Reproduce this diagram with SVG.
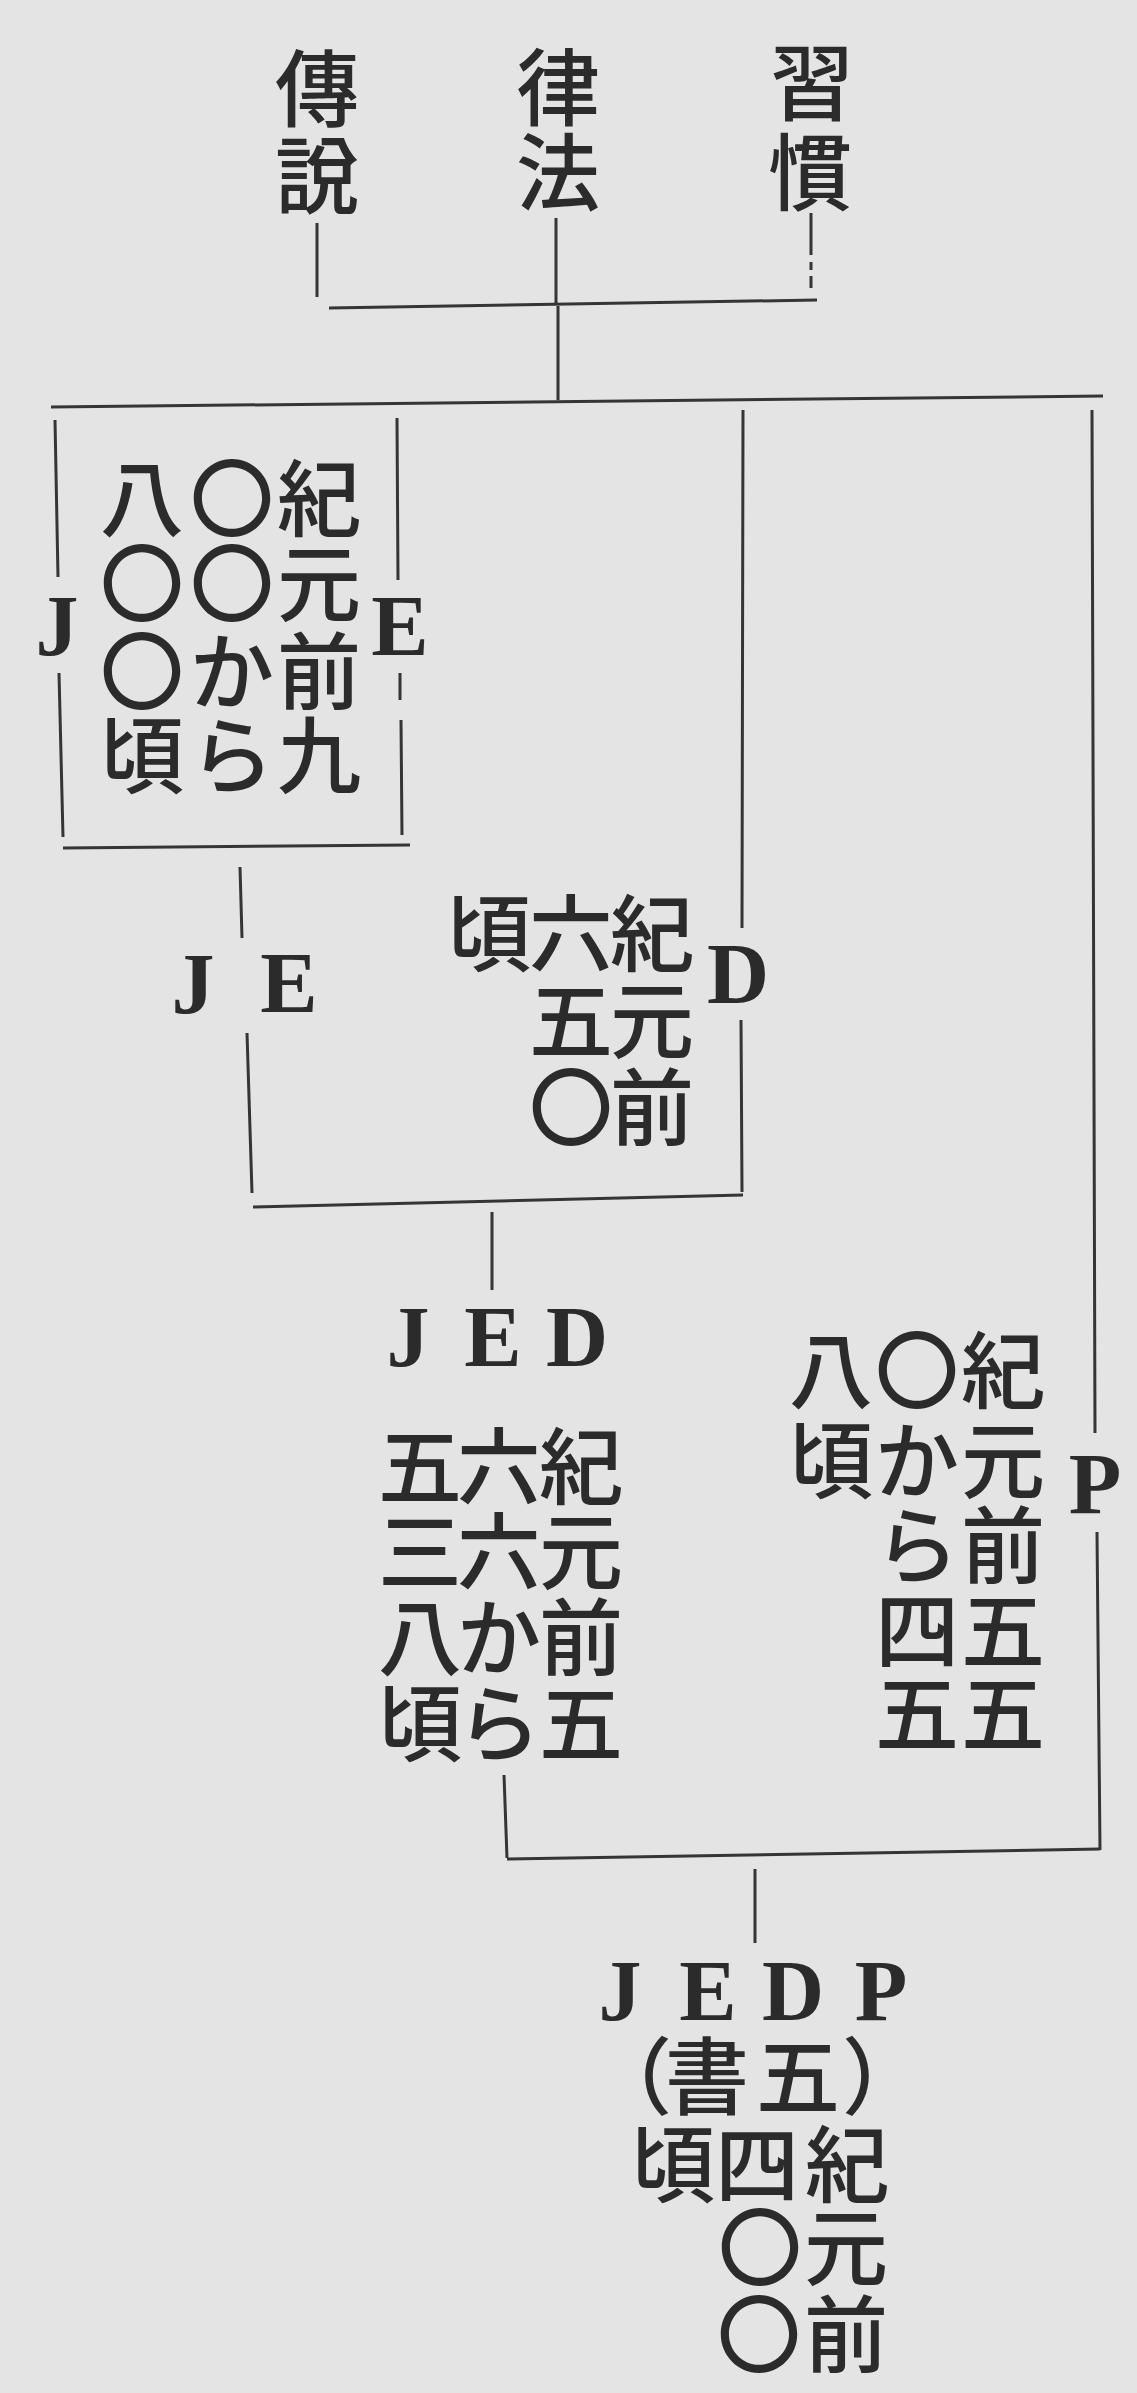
<svg xmlns="http://www.w3.org/2000/svg" width="1137" height="2393" viewBox="0 0 1137 2393">
<style>
.cj{font-family:"Noto Sans CJK JP","Noto Sans CJK SC",sans-serif;font-size:84px;fill:#2b2b2b;text-anchor:middle;font-weight:500}
.lt{font-family:"Liberation Serif",serif;font-size:86px;font-weight:bold;fill:#2b2b2b;text-anchor:middle}
.ln{stroke:#353535;stroke-width:3;fill:none;stroke-linecap:butt}
</style>
<rect x="0" y="0" width="1137" height="2393" fill="#e4e4e4"/>
<g id="connectors" class="ln">
<path d="M317 223 L317 297"/>
<path d="M556 218 L556 303"/>
<path d="M811 213 L811 255 M811 262 L811 270 M811 276 L811 288"/>
<path d="M329 308 L817 300"/>
<path d="M558 306 L558 400"/>
<path d="M51 407 L1103 396"/>
<path d="M55 420 L58 577 M59 673 L63 837"/>
<path d="M397 418 L398 580 M400 673 L400 700 M401 720 L402 835"/>
<path d="M63 848 L410 845"/>
<path d="M743 410 L742 928 M741 1020 L742 1192"/>
<path d="M240 867 L242 938 M247 1033 L252 1193"/>
<path d="M253 1207 L743 1195"/>
<path d="M492 1212 L492 1290"/>
<path d="M1092 410 L1095 1433 M1097 1532 L1100 1850"/>
<path d="M504 1775 L507 1858"/>
<path d="M507 1859 L1100 1849"/>
<path d="M755 1869 L755 1943"/>
</g>
<g id="node-densetsu"><text class="cj"><tspan x="317" y="120">傳</tspan><tspan x="317" y="207">說</tspan></text></g>
<g id="node-rippou"><text class="cj"><tspan x="558" y="119">律</tspan><tspan x="558" y="204">法</tspan></text></g>
<g id="node-shuukan"><text class="cj"><tspan x="812" y="114">習</tspan><tspan x="810" y="204">慣</tspan></text></g>
<g id="node-J-E">
<text class="lt" x="57" y="655">J</text>
<text class="lt" x="400" y="655">E</text>
<text class="cj"><tspan x="142 232 319" y="530">八〇紀</tspan><tspan x="142 232 319" y="615">〇〇元</tspan><tspan x="142 232 319" y="703">〇か前</tspan><tspan x="142 232 319" y="787">頃ら九</tspan></text>
</g>
<g id="node-JE"><text class="lt" x="193" y="1013">J</text><text class="lt" x="289" y="1012">E</text></g>
<g id="node-D">
<text class="lt" x="738" y="1003">D</text>
<text class="cj"><tspan x="489 571 652" y="965">頃六紀</tspan><tspan x="571 652" y="1052">五元</tspan><tspan x="571 652" y="1139">〇前</tspan></text>
</g>
<g id="node-JED">
<text class="lt" x="408 493 577" y="1366">JED</text>
<text class="cj"><tspan x="420 499 581" y="1498">五六紀</tspan><tspan x="420 499 581" y="1583">三六元</tspan><tspan x="420 499 581" y="1669">八か前</tspan><tspan x="420 499 581" y="1755">頃ら五</tspan></text>
</g>
<g id="node-P">
<text class="lt" x="1095" y="1513">P</text>
<text class="cj"><tspan x="831 917 1003" y="1402">八〇紀</tspan><tspan x="831 917 1003" y="1492">頃か元</tspan><tspan x="917 1003" y="1577">ら前</tspan><tspan x="917 1003" y="1662">四五</tspan><tspan x="917 1003" y="1745">五五</tspan></text>
</g>
<g id="node-JEDP">
<text class="lt" x="620 708 793 881" y="2020">JEDP</text>
<text class="cj"><tspan x="630 707 798 884" y="2108">（書五）</tspan><tspan x="673 757 847" y="2196">頃四紀</tspan><tspan x="760 846" y="2279">〇元</tspan><tspan x="759 846" y="2366">〇前</tspan></text>
</g>
</svg>
